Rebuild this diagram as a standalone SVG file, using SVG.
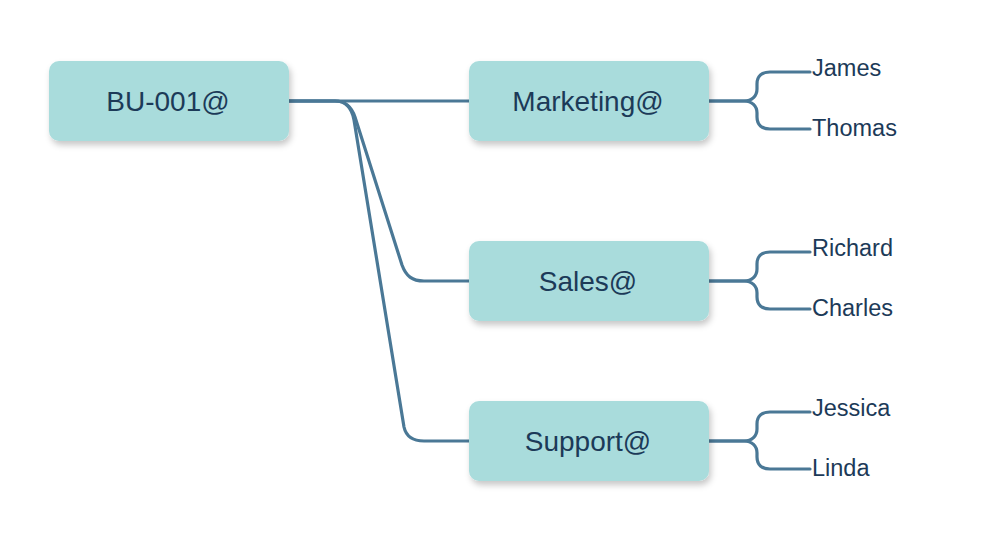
<svg xmlns="http://www.w3.org/2000/svg" width="1008" height="540" viewBox="0 0 1008 540">
<defs>
<filter id="sh" x="-10%" y="-20%" width="130%" height="150%">
<feDropShadow dx="2" dy="4" stdDeviation="3" flood-color="#000" flood-opacity="0.22"/>
</filter>
<style>
.node rect{fill:#a9dcdc;filter:url(#sh)}
.node text{font-family:"Liberation Sans",Arial,sans-serif;font-size:28px;fill:#1c3a58;text-anchor:middle}
.leaf{font-family:"Liberation Sans",Arial,sans-serif;font-size:23.5px;fill:#1c3a58}
.conn path{fill:none;stroke:#4a7896;stroke-width:3.2;stroke-linecap:round;stroke-linejoin:round}
</style>
</defs>
<rect width="1008" height="540" fill="#fff"/>
<g class="conn">
<path d="M289,101 H469"/>
<path d="M289,101 H335 C347,101 352,108 355,117 L402,265 C406,276 412,281 424,281 H469"/>
<path d="M289,101 H335 C347,101 352,109 354,120 L404,427 C406,436 412,441 424,441 H469"/>
<path d="M709,101 H744 C752,101 757,96 757,89 V84 C757,76 762,72 770,72 H810"/>
<path d="M709,101 H744 C752,101 757,106 757,113 V117 C757,125 762,129 770,129 H810"/>
<path d="M709,281 H744 C752,281 757,276 757,269 V264 C757,256 762,252 770,252 H810"/>
<path d="M709,281 H744 C752,281 757,286 757,293 V297 C757,305 762,309 770,309 H810"/>
<path d="M709,441 H744 C752,441 757,436 757,429 V424 C757,416 762,412 770,412 H810"/>
<path d="M709,441 H744 C752,441 757,446 757,453 V457 C757,465 762,469 770,469 H810"/>
</g>
<g id="bu001" class="node"><rect x="49" y="61" width="240" height="80" rx="10"/><text x="168" y="111">BU-001@</text></g>
<g id="marketing" class="node"><rect x="469" y="61" width="240" height="80" rx="10"/><text x="588" y="111">Marketing@</text></g>
<g id="sales" class="node"><rect x="469" y="241" width="240" height="80" rx="10"/><text x="588" y="291">Sales@</text></g>
<g id="support" class="node"><rect x="469" y="401" width="240" height="80" rx="10"/><text x="588" y="451">Support@</text></g>
<g id="james"><text class="leaf" x="812" y="76">James</text></g>
<g id="thomas"><text class="leaf" x="812" y="136">Thomas</text></g>
<g id="richard"><text class="leaf" x="812" y="256">Richard</text></g>
<g id="charles"><text class="leaf" x="812" y="316">Charles</text></g>
<g id="jessica"><text class="leaf" x="812" y="416">Jessica</text></g>
<g id="linda"><text class="leaf" x="812" y="476">Linda</text></g>
</svg>
